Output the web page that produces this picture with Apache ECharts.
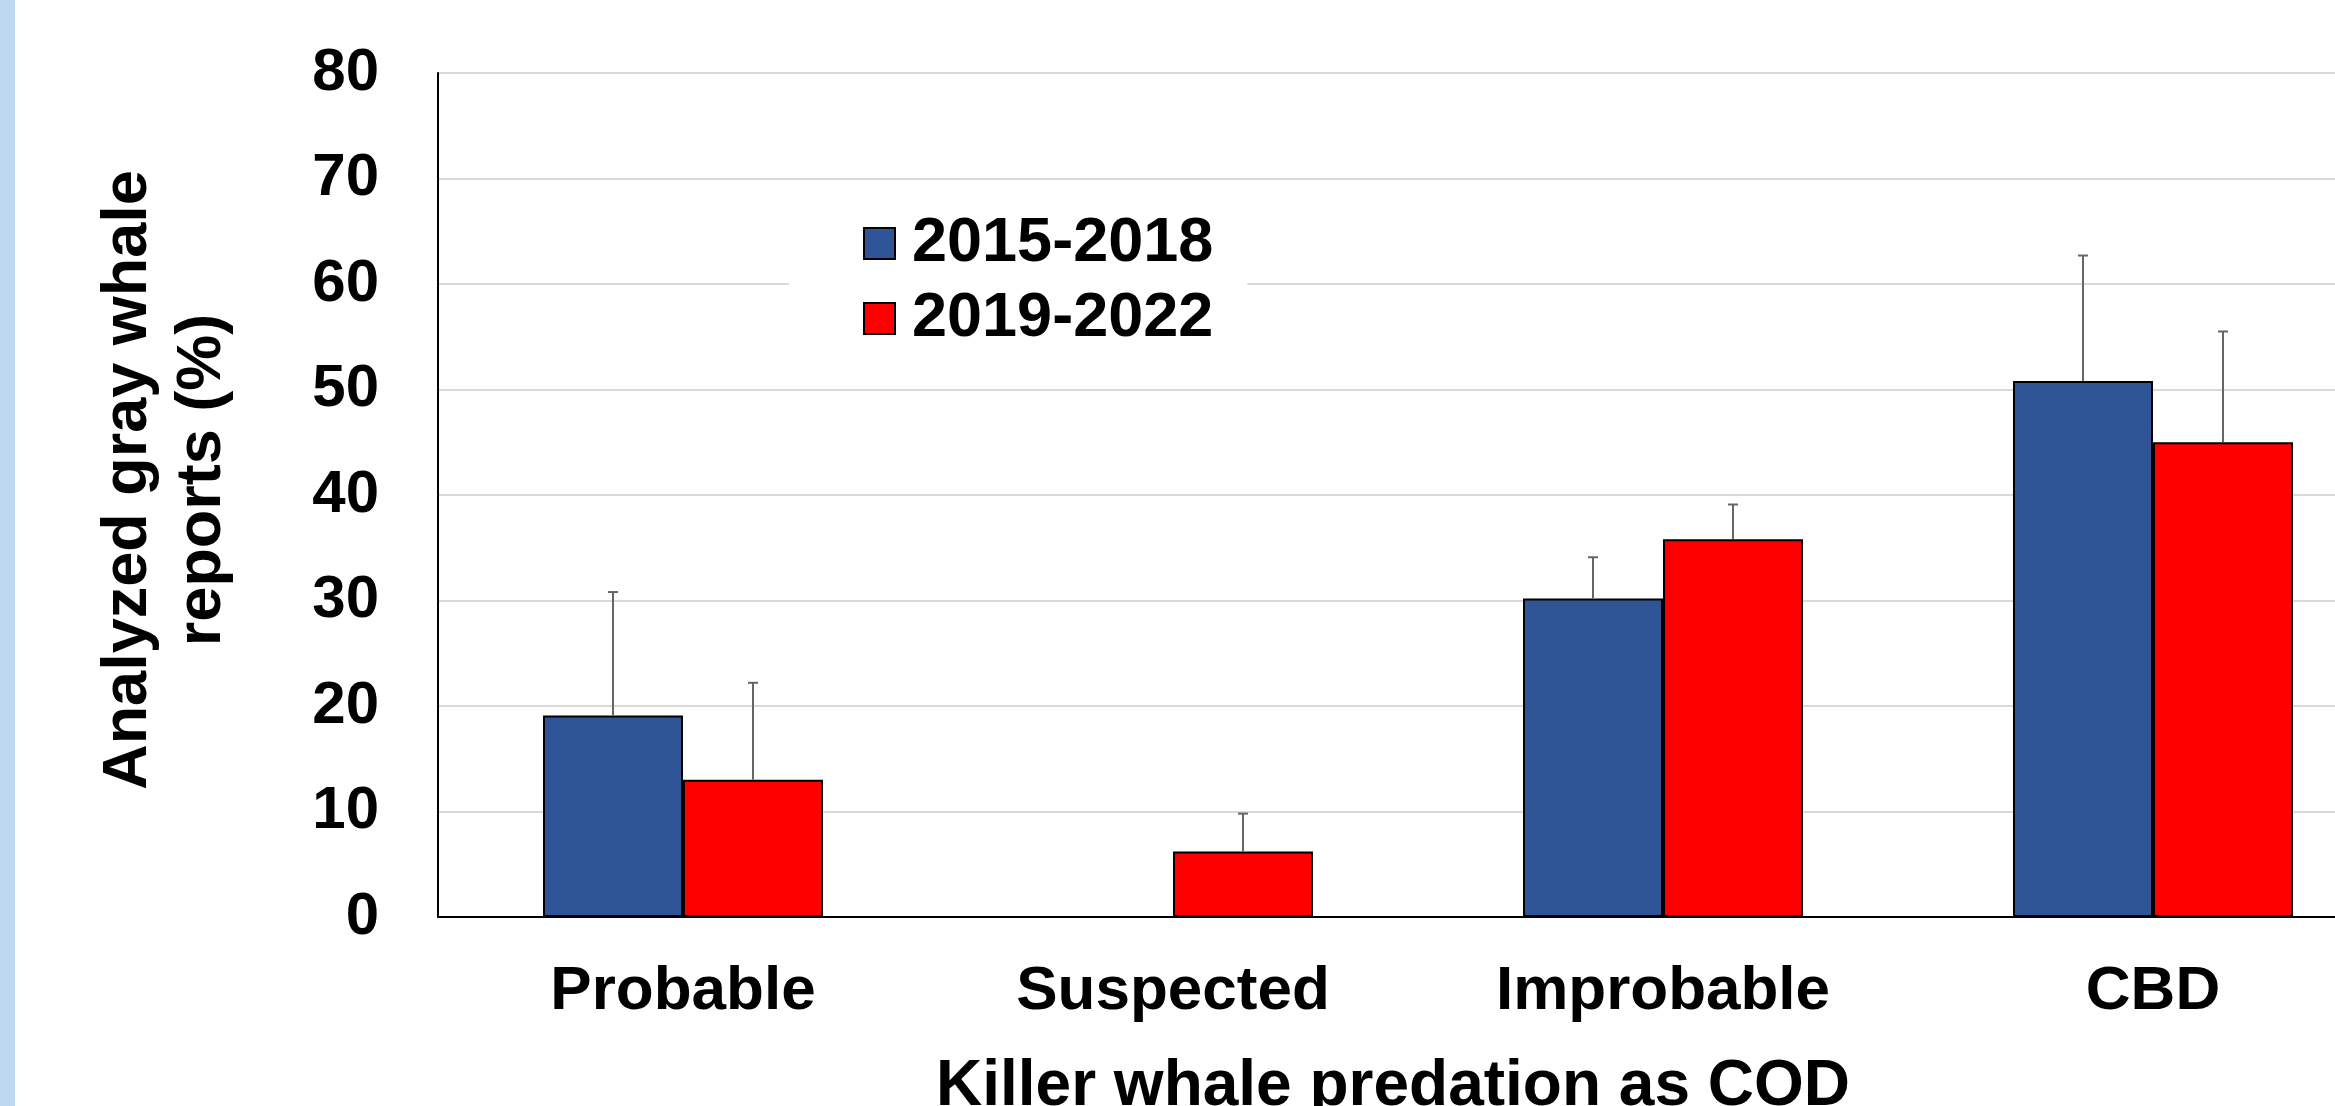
<!DOCTYPE html>
<html>
<head>
<meta charset="utf-8">
<script src="https://cdn.jsdelivr.net/npm/echarts@6/dist/echarts.min.js"></script>
<style>
  html, body { margin: 0; padding: 0; background: #fff; }
  #chart { width: 2335px; height: 1106px; }
</style>
</head>
<body>
<div id="chart"></div>
<script>
// categories and series values (percent)
const categories = ['Probable', 'Suspected', 'Improbable', 'CBD'];
const seriesNames = ['2015-2018', '2019-2022'];
const values2015 = [19.1, 0, 30.2, 50.8];
const values2019 = [13.0, 6.2, 35.8, 45.0];
// upper error (SD) added on top of each bar
const err2015 = [11.7, 0, 3.9, 11.9];
const err2019 = [9.2, 3.6, 3.3, 10.5];
const yTicks = [0, 10, 20, 30, 40, 50, 60, 70, 80];

const FONT = '"Liberation Sans", Arial, sans-serif';
const BAR_W = 140;

document.addEventListener('DOMContentLoaded', function () {
    const chart = echarts.init(document.getElementById('chart'));

    // 误差线数据: [类别索引, 柱顶, 误差上端]
    function errData(vals, errs) {
        return vals.map((v, i) => [i, v, v + errs[i]]);
    }

    function errRenderer(offset) {
        return function (params, api) {
            const lo = api.value(1), hi = api.value(2);
            if (hi <= lo) return null;
            const pLo = api.coord([api.value(0), lo]);
            const pHi = api.coord([api.value(0), hi]);
            const x = pLo[0] + offset;
            const st = { stroke: '#666666', lineWidth: 2 };
            return {
                type: 'group',
                children: [
                    { type: 'line', shape: { x1: x, y1: pLo[1], x2: x, y2: pHi[1] }, style: st },
                    { type: 'line', shape: { x1: x - 5, y1: pHi[1], x2: x + 5, y2: pHi[1] }, style: st }
                ]
            };
        };
    }

    const option = {
        backgroundColor: '#ffffff',
        animation: false,
        graphic: [{
            type: 'rect', left: 0, top: 0,
            shape: { width: 15, height: 1106 },
            style: { fill: '#BDD7EE' }, z: 10
        }],
        grid: {
            left: 438, right: -63, top: 73, bottom: 189,
            containLabel: false, outerBoundsMode: 'none'
        },
        legend: {
            data: seriesNames,
            orient: 'vertical',
            left: 789, top: 187,
            backgroundColor: '#ffffff',
            padding: [25, 34, 20, 74],
            icon: 'rect',
            itemWidth: 31, itemHeight: 31,
            itemGap: 12,
            itemStyle: { borderColor: '#000', borderWidth: 2 },
            textStyle: {
                fontFamily: FONT, fontWeight: 'bold', fontSize: 63, color: '#000',
                lineHeight: 60, padding: [0, 0, 0, 12]
            },
            z: 20
        },
        xAxis: {
            type: 'category',
            data: categories,
            name: 'Killer whale predation as COD',
            nameLocation: 'middle',
            nameGap: 138,
            nameTextStyle: {
                fontFamily: FONT, fontWeight: 'bold', fontSize: 64, color: '#000',
                padding: [0, 50, 0, 0]
            },
            axisLine: { show: true, lineStyle: { color: '#000', width: 2 } },
            axisTick: { show: false },
            axisLabel: {
                fontFamily: FONT, fontWeight: 'bold', fontSize: 62, color: '#000',
                margin: 44, interval: 0
            },
            splitLine: { show: false }
        },
        yAxis: {
            type: 'value',
            min: yTicks[0], max: yTicks[yTicks.length - 1], interval: 10,
            name: 'Analyzed gray whale\nreports (%)',
            nameLocation: 'middle',
            nameGap: 198,
            nameTextStyle: {
                fontFamily: FONT, fontWeight: 'bold', fontSize: 63, color: '#000',
                lineHeight: 74, padding: [0, 0, 0, 30]
            },
            axisLine: { show: true, lineStyle: { color: '#000', width: 2 } },
            axisTick: { show: false },
            axisLabel: {
                fontFamily: FONT, fontWeight: 'bold', fontSize: 60, color: '#000',
                margin: 59
            },
            splitLine: { show: true, lineStyle: { color: '#d9d9d9', width: 2 } }
        },
        series: [
            {
                name: seriesNames[0], type: 'bar', data: values2015,
                barWidth: BAR_W, barGap: '0%',
                itemStyle: { color: '#2F5597', borderColor: '#000', borderWidth: 2 }
            },
            {
                name: seriesNames[1], type: 'bar', data: values2019,
                barWidth: BAR_W, barGap: '0%',
                itemStyle: { color: '#FF0000', borderColor: '#000', borderWidth: 2 }
            },
            {
                name: 'err2015', type: 'custom', coordinateSystem: 'cartesian2d',
                data: errData(values2015, err2015), renderItem: errRenderer(-BAR_W / 2),
                encode: { x: 0, y: [1, 2] }, z: 5
            },
            {
                name: 'err2019', type: 'custom', coordinateSystem: 'cartesian2d',
                data: errData(values2019, err2019), renderItem: errRenderer(BAR_W / 2),
                encode: { x: 0, y: [1, 2] }, z: 5
            }
        ]
    };

    chart.setOption(option);
});
</script>
</body>
</html>
